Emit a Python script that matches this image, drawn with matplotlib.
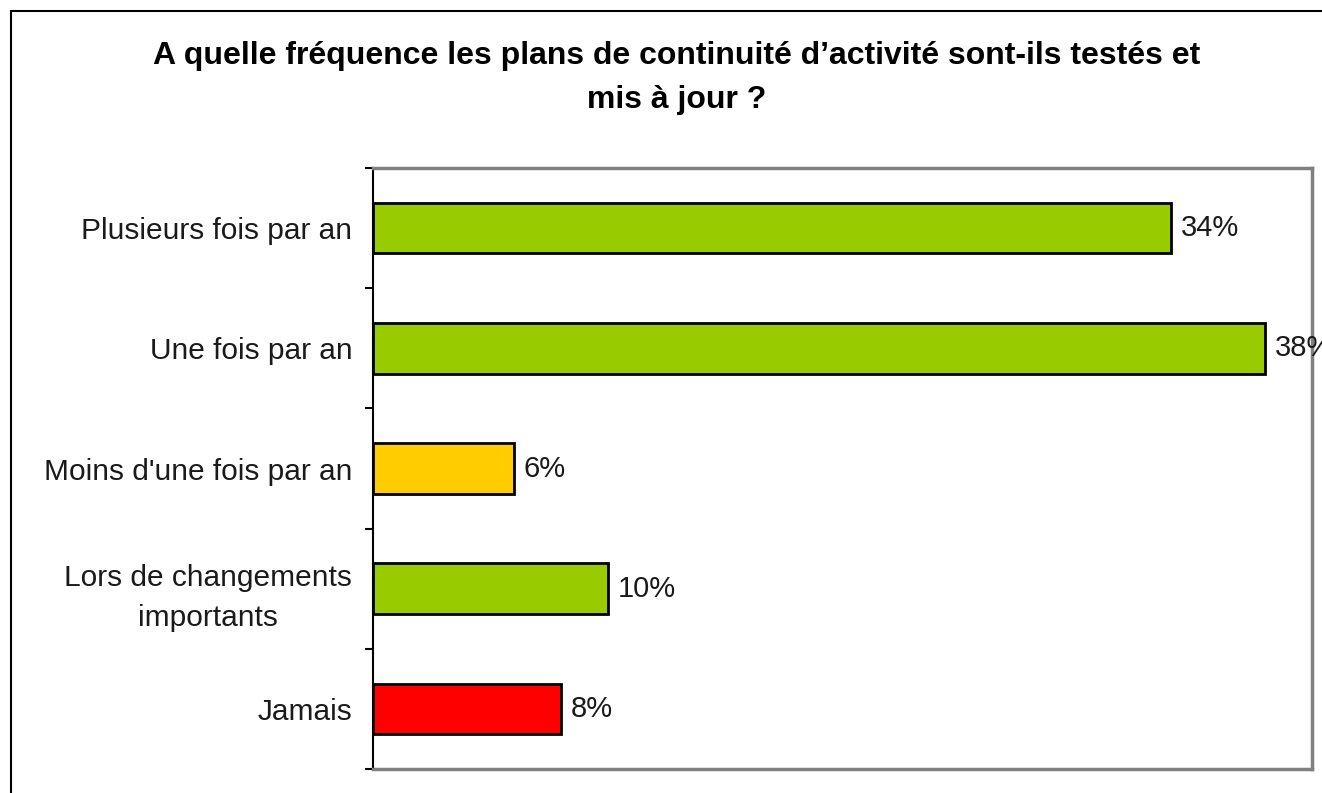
import matplotlib.pyplot as plt
from matplotlib.patches import Rectangle
import numpy as np

plt.rcParams['font.family'] = ['Liberation Sans', 'DejaVu Sans']

categories = ['Plusieurs fois par an', 'Une fois par an', "Moins d'une fois par an",
              'Lors de changements\nimportants', 'Jamais']
values = [34, 38, 6, 10, 8]
colors = ['#99CC00', '#99CC00', '#FFCC00', '#99CC00', '#FF0000']
title = "A quelle fréquence les plans de continuité d\u2019activité sont-ils testés et\nmis à jour ?"

W, H = 1322, 793
fig = plt.figure(figsize=(W / 100, H / 100), dpi=100)

# outer frame (runs off the right and bottom edges)
fig.patches.append(Rectangle((11 / W, -0.1), 1.2, 1 - 11 / H + 0.1, transform=fig.transFigure,
                             fill=False, edgecolor='black', linewidth=1.5))

ax = fig.add_axes([373 / W, 1 - 769 / H, (1312 - 373) / W, (769 - 168) / H])

y = np.arange(len(categories))
ax.barh(y, values, height=0.42, color=colors, edgecolor='black', linewidth=2)
for yi, v in zip(y, values):
    ax.text(v + 0.42, yi, '%d%%' % v, va='center', ha='left', fontsize=21, color='#1a1a1a',
            clip_on=False)

ax.set_xlim(0, 40)
ax.set_ylim(len(categories) - 0.5, -0.5)
ax.set_xticks([])
ax.set_yticks(y)
ax.set_yticklabels(categories, fontsize=21.5, multialignment='center', color='#1a1a1a',
                   linespacing=1.55)
ax.tick_params(axis='y', which='major', length=0, pad=15)
ax.set_yticks(np.arange(-0.5, len(categories)), minor=True)
ax.tick_params(axis='y', which='minor', length=6, width=1.5, color='black')

for s in ['top', 'right', 'bottom']:
    ax.spines[s].set_color('#808080')
    ax.spines[s].set_linewidth(2.5)
ax.spines['left'].set_color('black')
ax.spines['left'].set_linewidth(1.5)

fig.text(677 / W, 1 - 78 / H, title, ha='center', va='center', fontsize=23,
         fontweight='bold', linespacing=1.58)

fig.savefig('out.png', dpi=100)
